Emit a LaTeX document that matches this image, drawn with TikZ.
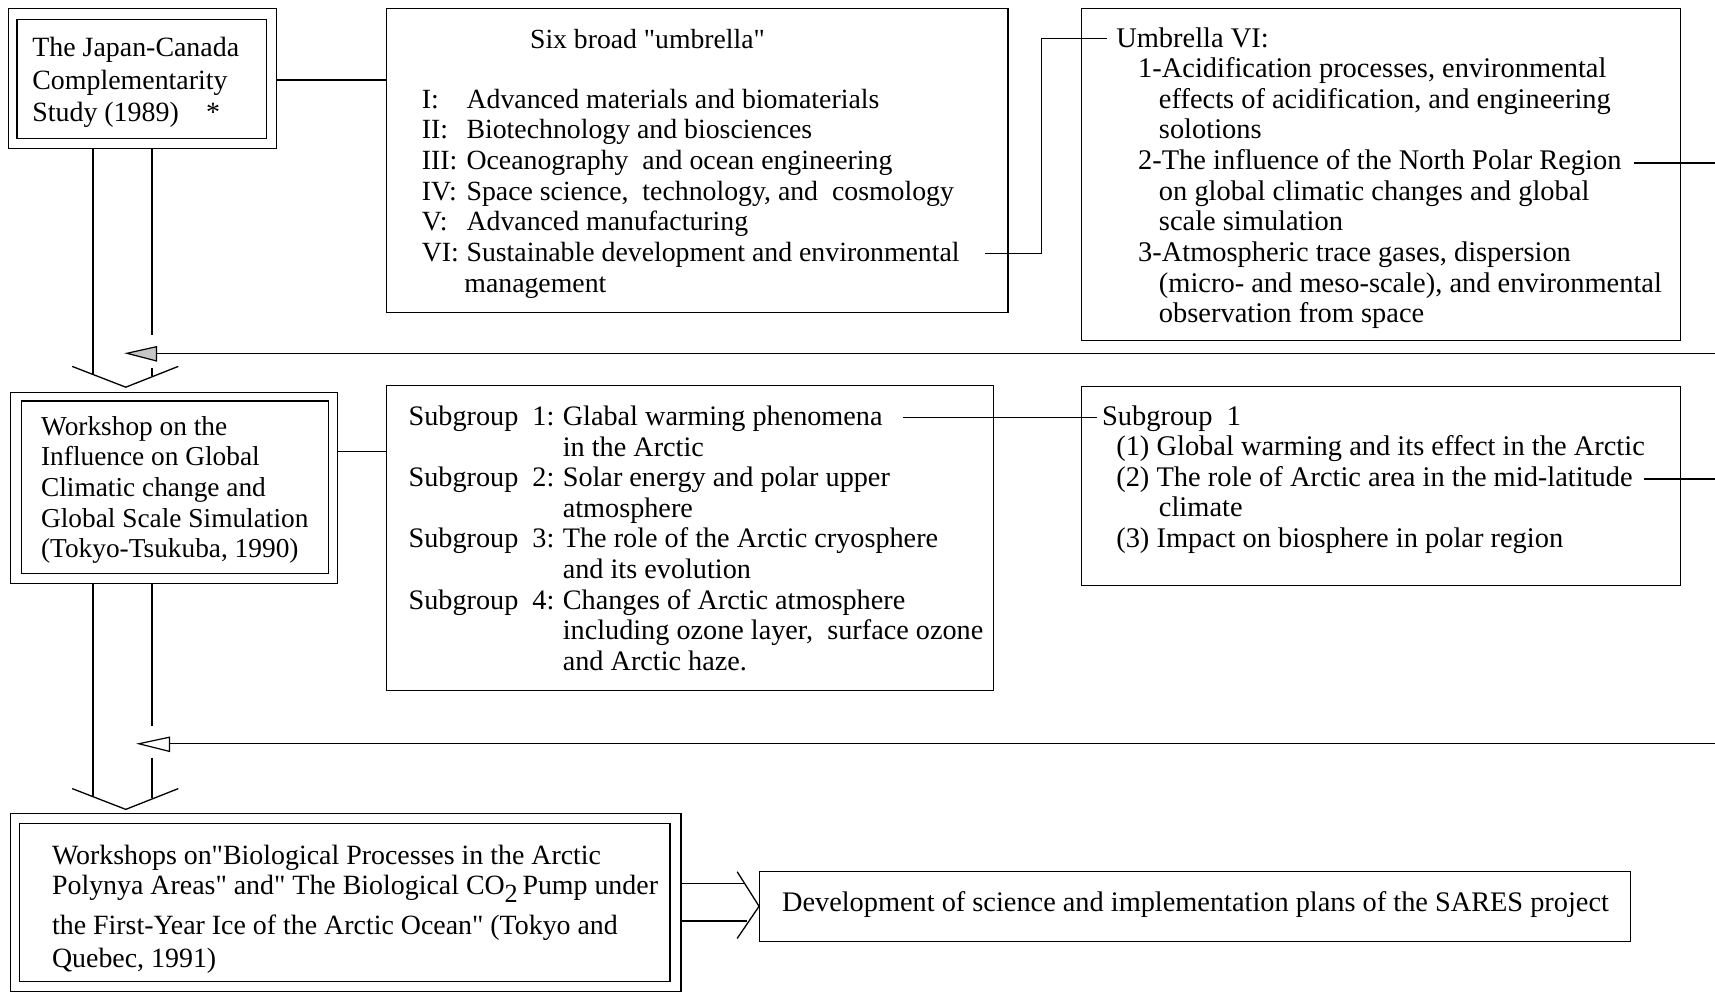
\documentclass[tikz,border=0pt]{standalone}
\usepackage{fontspec}
\setmainfont{Liberation Serif}[Ligatures=TeXOff]
\usetikzlibrary{calc}
\newcommand{\fs}{\fontsize{25}{28}\selectfont}
\newcommand{\fsz}[1]{\fontsize{#1}{28}\selectfont}
\newcommand{\lb}[2]{\makebox[#1][l]{#2}}
\begin{document}
\begin{tikzpicture}[x=1pt,y=-1pt,line width=1.2pt,
  box/.style={draw,rectangle,inner sep=0pt,anchor=north west},
  txt/.style={anchor=base west,inner sep=0pt,font=\fs},
  ctxt/.style={anchor=base,inner sep=0pt,font=\fs},
  conn/.style={draw,line width=1.2pt},
  headA/.style={draw,line width=1.1pt,fill=gray!45},
  headB/.style={draw,line width=1.1pt,fill=white}]
\useasboundingbox[fill=white] (0,0) rectangle (1568,907);

% ---------- boxes ----------
\node[box,minimum width=245pt,minimum height=128pt] (Aout) at (7,7) {};
\node[box,minimum width=228pt,minimum height=109pt] (Ain) at (15,17) {};
\node[box,minimum width=568pt,minimum height=278pt] (U) at (353,7) {};
\node[box,minimum width=548pt,minimum height=304pt] (UVI) at (988,7) {};
\node[box,minimum width=299pt,minimum height=175pt] (Bout) at (9,358) {};
\node[box,minimum width=281pt,minimum height=158pt] (Bin) at (19,366) {};
\node[box,minimum width=555pt,minimum height=279pt] (Sub) at (353,352) {};
\node[box,minimum width=548pt,minimum height=182pt] (S1) at (988,353) {};
\node[box,minimum width=613pt,minimum height=163pt] (Cout) at (9,743) {};
\node[box,minimum width=595pt,minimum height=145pt] (Cin) at (17,752) {};
\node[box,minimum width=796pt,minimum height=64pt] (SARES) at (694,796) {};

% ---------- texts ----------
\foreach \t [count=\i from 0] in {The Japan-Canada,Complementarity,{Study (1989)\hspace{25pt}*}}
  \node[txt,font=\fsz{25.5}] (atx\i) at (29,{52+29.5*\i}) {\t};

\node[ctxt,font=\fsz{25.3}] (utitle) at (592,44) {Six broad "umbrella"};
\foreach \t [count=\i from 0] in {
  {\lb{41pt}{I:}Advanced materials and biomaterials},
  {\lb{41pt}{II:}Biotechnology and biosciences},
  {\lb{41pt}{III:}Oceanography\ \ and ocean engineering},
  {\lb{41pt}{IV:}Space science,\ \ technology, and\ \ cosmology},
  {\lb{41pt}{V:}Advanced manufacturing},
  {\lb{41pt}{VI:}Sustainable development and environmental},
  {\lb{39pt}{}management}}
  \node[txt,font=\fsz{25.4}] (ul\i) at (385,{99+28*\i}) {\t};

\node[txt,font=\fsz{26}] (uvt) at (1020,43) {Umbrella VI:};
\foreach \t/\x [count=\i from 1] in {
  {1-Acidification processes, environmental}/1040,
  {effects of acidification, and engineering}/1059,
  {solotions}/1059,
  {2-The influence of the North Polar Region}/1040,
  {on global climatic changes and global}/1059,
  {scale simulation}/1059,
  {3-Atmospheric trace gases, dispersion}/1040,
  {(micro- and meso-scale), and environmental}/1059,
  {observation from space}/1059}
  \node[txt,font=\fsz{26}] (uv\i) at (\x,{43+28*\i}) {\t};

\foreach \t [count=\i from 0] in {Workshop on the,Influence on Global,Climatic change and,Global Scale Simulation,{(Tokyo-Tsukuba, 1990)}}
  \node[txt] (btx\i) at (37,{398+28*\i}) {\t};

\foreach \t [count=\i from 0] in {
  {\lb{141pt}{Subgroup\ \ 1:}Glabal warming phenomena},
  {\lb{141pt}{}in the Arctic},
  {\lb{141pt}{Subgroup\ \ 2:}Solar energy and polar upper},
  {\lb{141pt}{}atmosphere},
  {\lb{141pt}{Subgroup\ \ 3:}The role of the Arctic cryosphere},
  {\lb{141pt}{}and its evolution},
  {\lb{141pt}{Subgroup\ \ 4:}Changes of Arctic atmosphere},
  {\lb{141pt}{}including ozone layer,\ \ surface ozone},
  {\lb{141pt}{}and Arctic haze.}}
  \node[txt,font=\fsz{25.8}] (sg\i) at (373,{389+28*\i}) {\t};

\node[txt,font=\fsz{26}] (s1t) at (1007,389) {Subgroup\ \ 1};
\foreach \t/\x [count=\i from 1] in {
  {(1) Global warming and its effect in the Arctic}/1020,
  {(2) The role of Arctic area in the mid-latitude}/1020,
  {climate}/1059,
  {(3) Impact on biosphere in polar region}/1020}
  \node[txt,font=\fsz{26}] (s1\i) at (\x,{389+27.8*\i}) {\t};

\node[txt,font=\fsz{25.5}] (ct0) at (47,790) {Workshops on"Biological Processes in the Arctic};
\node[txt,font=\fsz{25.5}] (ct1) at (47,818) {Polynya Areas" and" The Biological CO{\raisebox{-7pt}{\fontsize{24}{24}\selectfont 2}}\,Pump under};
\node[txt,font=\fsz{25.5}] (ct2) at (47,854) {the First-Year Ice of the Arctic Ocean" (Tokyo and};
\node[txt,font=\fsz{25.5}] (ct3) at (47,885) {Quebec, 1991)};

\node[ctxt,font=\fsz{25.9}] (sarest) at (1093,833) {Development of science and implementation plans of the SARES project};

% ---------- connectors ----------
\draw[conn] (Aout.east |- 0,73) -- (U.west |- 0,73);
\draw[conn] (Bout.east |- 0,413) -- (Sub.west |- 0,413);

\coordinate (uvs) at (901,232);
\coordinate (uve) at (1012,35);
\draw[conn] (uvs) -- (952,232) -- (952,35) -- (uve);

\coordinate (sgs) at (826,382);
\coordinate (sge) at (1003,382);
\draw[conn] (sgs) -- (sge);

% feedback lines running off the right edge
\coordinate (f1s) at (1494,149);
\coordinate (f1e) at (1568,149);
\draw[conn] (f1s) -- (f1e);
\coordinate (f2s) at (1503,438);
\coordinate (f2e) at (1568,438);
\draw[conn] (f2s) -- (f2e);

% return arrows
\coordinate (r1) at (1568,323);
\coordinate (ah1) at (116,323);
\draw[conn] (r1) -- ($(ah1)+(27,0)$);
\draw[headA] (ah1) -- ++(27,-6) -- ++(0,13) -- cycle;

\coordinate (r2) at (1568,680);
\coordinate (ah2) at (127,680);
\draw[conn] (r2) -- ($(ah2)+(28,0)$);
\draw[headB] (ah2) -- ++(28,-6) -- ++(0,13) -- cycle;

% broad arrow A -> B
\draw[conn] (Aout.south west -| 85,0) -- (85,342);
\draw[conn] (Aout.south west -| 139,0) -- (139,306);
\draw[conn] (139,336) -- (139,344);
\draw[conn] (66,335) -- (115,354) -- (163,335);

% broad arrow B -> C
\draw[conn] (Bout.south west -| 85,0) -- (85,728);
\draw[conn] (Bout.south west -| 139,0) -- (139,664);
\draw[conn] (139,693) -- (139,730);
\draw[conn] (66,721) -- (115,740) -- (163,721);

% broad arrow C -> SARES
\draw[conn] (Cout.east |- 0,808) -- (681,808);
\draw[conn] (Cout.east |- 0,842) -- (683,842);
\draw[conn] (674,797) -- (SARES.west) -- (674,858);
\end{tikzpicture}
\end{document}
